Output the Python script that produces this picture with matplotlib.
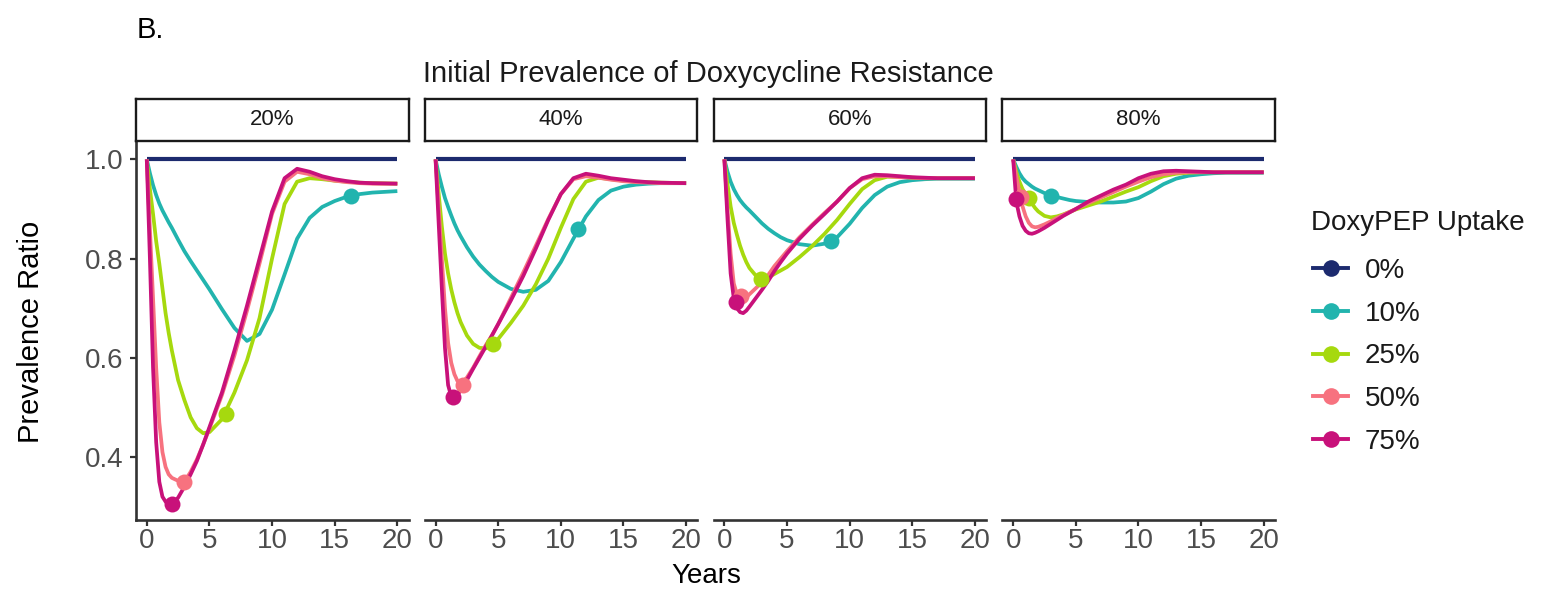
import numpy as np
import matplotlib
matplotlib.use('Agg')
import matplotlib.pyplot as plt
from matplotlib.lines import Line2D

plt.rcParams['font.family'] = ['Liberation Sans', 'DejaVu Sans']

# ---- data ----
years = [0, 0.25, 0.5, 0.75, 1, 1.25, 1.5, 1.75, 2, 2.5, 3, 3.5, 4, 4.5, 5,
         6, 7, 8, 9, 10, 11, 12, 13, 14, 15, 16, 17, 18, 20]

uptake = ['0%', '10%', '25%', '50%', '75%']
resistance = ['20%', '40%', '60%', '80%']
colors = ['#1c2a6e', '#22b4ae', '#a6d90e', '#f7727f', '#c8117a']

# initial resistance 20%
r20_10 = [1.0, 0.972, 0.948, 0.928, 0.911, 0.897, 0.885, 0.873, 0.862, 0.838, 0.815, 0.795, 0.776, 0.757, 0.738,
          0.698, 0.660, 0.634, 0.648, 0.697, 0.768, 0.84, 0.882, 0.904, 0.916, 0.925, 0.93, 0.933, 0.936]
r20_25 = [1.0, 0.94, 0.89, 0.835, 0.79, 0.74, 0.69, 0.65, 0.615, 0.555, 0.515, 0.48, 0.458, 0.448, 0.45,
          0.476, 0.53, 0.595, 0.68, 0.80, 0.91, 0.955, 0.962, 0.96, 0.957, 0.955, 0.953, 0.952, 0.951]
r20_50 = [1.0, 0.86, 0.72, 0.58, 0.47, 0.41, 0.38, 0.365, 0.358, 0.352, 0.35, 0.37, 0.395, 0.425, 0.457,
          0.525, 0.605, 0.695, 0.79, 0.89, 0.955, 0.975, 0.97, 0.962, 0.957, 0.954, 0.952, 0.951, 0.951]
r20_75 = [1.0, 0.8, 0.58, 0.43, 0.35, 0.32, 0.31, 0.305, 0.305, 0.318, 0.34, 0.365, 0.392, 0.425, 0.46,
          0.53, 0.615, 0.705, 0.80, 0.895, 0.962, 0.981, 0.975, 0.966, 0.96, 0.956, 0.953, 0.952, 0.951]

# initial resistance 40%
r40_10 = [1.0, 0.97, 0.945, 0.922, 0.904, 0.887, 0.871, 0.857, 0.845, 0.823, 0.804, 0.788, 0.775, 0.763, 0.753,
          0.739, 0.733, 0.737, 0.755, 0.793, 0.84, 0.885, 0.918, 0.937, 0.945, 0.949, 0.951, 0.952, 0.952]
r40_25 = [1.0, 0.93, 0.865, 0.81, 0.77, 0.738, 0.712, 0.69, 0.672, 0.645, 0.628, 0.62, 0.619, 0.625, 0.638,
          0.67, 0.705, 0.748, 0.80, 0.862, 0.92, 0.955, 0.963, 0.96, 0.957, 0.955, 0.954, 0.953, 0.952]
r40_50 = [1.0, 0.9, 0.8, 0.7, 0.63, 0.59, 0.567, 0.553, 0.547, 0.56, 0.58, 0.603, 0.625, 0.645, 0.668,
          0.72, 0.772, 0.826, 0.88, 0.93, 0.96, 0.966, 0.963, 0.959, 0.956, 0.954, 0.953, 0.952, 0.952]
r40_75 = [1.0, 0.87, 0.74, 0.62, 0.545, 0.522, 0.518, 0.525, 0.535, 0.555, 0.578, 0.6, 0.622, 0.645, 0.668,
          0.715, 0.765, 0.82, 0.878, 0.93, 0.962, 0.971, 0.967, 0.962, 0.959, 0.956, 0.954, 0.953, 0.952]

# initial resistance 60%
r60_10 = [1.0, 0.975, 0.955, 0.94, 0.928, 0.918, 0.91, 0.903, 0.897, 0.884, 0.871, 0.86, 0.851, 0.843, 0.837,
          0.829, 0.826, 0.83, 0.843, 0.87, 0.902, 0.928, 0.945, 0.954, 0.958, 0.96, 0.961, 0.961, 0.961]
r60_25 = [1.0, 0.95, 0.905, 0.872, 0.848, 0.826, 0.808, 0.793, 0.781, 0.766, 0.759, 0.762, 0.769, 0.776, 0.783,
          0.803, 0.825, 0.85, 0.878, 0.91, 0.94, 0.958, 0.965, 0.965, 0.963, 0.962, 0.962, 0.962, 0.962]
r60_50 = [1.0, 0.9, 0.81, 0.75, 0.728, 0.72, 0.718, 0.722, 0.728, 0.74, 0.752, 0.767, 0.785, 0.8, 0.815,
          0.843, 0.868, 0.892, 0.915, 0.942, 0.96, 0.966, 0.966, 0.964, 0.963, 0.962, 0.962, 0.962, 0.962]
r60_75 = [1.0, 0.88, 0.77, 0.72, 0.70, 0.692, 0.69, 0.695, 0.703, 0.72, 0.737, 0.755, 0.775, 0.793, 0.81,
          0.84, 0.866, 0.89, 0.915, 0.942, 0.962, 0.969, 0.968, 0.966, 0.964, 0.963, 0.962, 0.962, 0.962]

# initial resistance 80%
r80_10 = [1.0, 0.985, 0.972, 0.962, 0.955, 0.95, 0.945, 0.941, 0.938, 0.932, 0.928, 0.924, 0.921, 0.918, 0.916,
          0.914, 0.913, 0.913, 0.915, 0.922, 0.935, 0.95, 0.961, 0.967, 0.97, 0.972, 0.973, 0.973, 0.973]
r80_25 = [1.0, 0.975, 0.955, 0.94, 0.93, 0.921, 0.911, 0.902, 0.895, 0.886, 0.883, 0.885, 0.889, 0.894, 0.899,
          0.907, 0.915, 0.925, 0.935, 0.944, 0.956, 0.966, 0.971, 0.973, 0.974, 0.974, 0.974, 0.974, 0.974]
r80_50 = [1.0, 0.965, 0.935, 0.905, 0.885, 0.872, 0.865, 0.863, 0.864, 0.869, 0.875, 0.882, 0.888, 0.894, 0.9,
          0.912, 0.923, 0.934, 0.945, 0.955, 0.964, 0.97, 0.973, 0.974, 0.974, 0.974, 0.974, 0.974, 0.974]
r80_75 = [1.0, 0.915, 0.885, 0.866, 0.856, 0.851, 0.85, 0.852, 0.855, 0.862, 0.87, 0.878, 0.886, 0.893, 0.9,
          0.915, 0.927, 0.939, 0.949, 0.962, 0.971, 0.976, 0.977, 0.976, 0.975, 0.974, 0.974, 0.974, 0.974]

# highlighted points (10%, 25%, 50%, 75% uptake)
mark_t20 = [16.3, 6.3, 3.0, 2.0]
mark_v20 = [0.927, 0.487, 0.35, 0.305]
mark_t40 = [11.4, 4.6, 2.2, 1.4]
mark_v40 = [0.86, 0.628, 0.545, 0.52]
mark_t60 = [8.5, 2.9, 1.3, 0.9]
mark_v60 = [0.836, 0.759, 0.725, 0.712]
mark_t80 = [3.05, 1.3, 0.6, 0.2]
mark_v80 = [0.927, 0.922, 0.925, 0.92]

baseline = [1.0] * len(years)

panels = [
    ([baseline, r20_10, r20_25, r20_50, r20_75], mark_t20, mark_v20),
    ([baseline, r40_10, r40_25, r40_50, r40_75], mark_t40, mark_v40),
    ([baseline, r60_10, r60_25, r60_50, r60_75], mark_t60, mark_v60),
    ([baseline, r80_10, r80_25, r80_50, r80_75], mark_t80, mark_v80),
]

# ---- layout (pixels of a 1544x591 canvas) ----
W, H = 1544, 591
fig = plt.figure(figsize=(W / 100, H / 100), dpi=100)
fig.patch.set_facecolor('white')

lefts = [136, 424.8, 713.6, 1002.4]
pw = 272.6
ptop, pbot = 141, 520
stop = 99
axcol = '#333333'
tickcol = '#4d4d4d'

for i, (series, mt, mv) in enumerate(panels):
    ax = fig.add_axes([lefts[i] / W, 1 - pbot / H, pw / W, (pbot - ptop) / H])
    for j, vals in enumerate(series):
        ax.plot(years, vals, color=colors[j], lw=3.0 if j == 0 else 2.7,
                solid_capstyle='butt', solid_joinstyle='round', zorder=2 + j)
    for j in range(4):
        ax.plot(mt[j], mv[j], 'o', color=colors[j + 1], ms=11.5, mec='none', zorder=10 + j)
    ax.set_xlim(-0.86, 20.9)
    ax.set_ylim(0.273, 1.037)
    ax.set_xticks([0, 5, 10, 15, 20])
    ax.set_yticks([0.4, 0.6, 0.8, 1.0])
    ax.set_yticklabels(['0.4', '0.6', '0.8', '1.0'])
    for s in ['top', 'right']:
        ax.spines[s].set_visible(False)
    ax.spines['bottom'].set_color(axcol)
    ax.spines['bottom'].set_linewidth(1.9)
    ax.tick_params(axis='x', colors=axcol, width=1.6, length=4, labelsize=20,
                   labelcolor=tickcol, pad=2)
    if i == 0:
        ax.spines['left'].set_color(axcol)
        ax.spines['left'].set_linewidth(1.9)
        ax.tick_params(axis='y', colors=axcol, width=1.6, length=4, labelsize=20,
                       labelcolor=tickcol, pad=5)
    else:
        ax.spines['left'].set_visible(False)
        ax.tick_params(axis='y', left=False, labelleft=False)

    # facet strip
    sax = fig.add_axes([lefts[i] / W, 1 - ptop / H, pw / W, (ptop - stop) / H])
    sax.set_xticks([])
    sax.set_yticks([])
    for s in sax.spines.values():
        s.set_color('#1a1a1a')
        s.set_linewidth(1.7)
    sax.text(0.5, 0.5, resistance[i], ha='center', va='center', fontsize=16,
             color='#1a1a1a', transform=sax.transAxes)

fig.text(137 / W, 1 - 30 / H, 'B.', ha='left', va='center', fontsize=21, color='black')
fig.text(708 / W, 1 - 74 / H, 'Initial Prevalence of Doxycycline Resistance',
         ha='center', va='center', fontsize=21, color='#1a1a1a')
fig.text(31 / W, 1 - 332 / H, 'Prevalence Ratio', ha='center', va='center',
         rotation=90, fontsize=21, color='black')
fig.text(706 / W, 1 - 576 / H, 'Years', ha='center', va='center', fontsize=20, color='black')

# legend: title as its own text so the gap to the keys matches
fig.text(1311 / W, 1 - 223 / H, 'DoxyPEP Uptake', ha='left', va='center',
         fontsize=20, color='#1a1a1a')
handles = [Line2D([0], [0], color=c, lw=2.8, marker='o', ms=12, mec='none') for c in colors]
leg = fig.legend(handles, uptake, loc='upper left', bbox_to_anchor=(1313 / W, 1 - 258 / H),
                 frameon=False, fontsize=20,
                 handlelength=1.26, handletextpad=0.6, labelspacing=0.6,
                 borderpad=0, borderaxespad=0)
for t in leg.get_texts():
    t.set_color('#1a1a1a')

fig.savefig('out.png', dpi=100, facecolor='white')
